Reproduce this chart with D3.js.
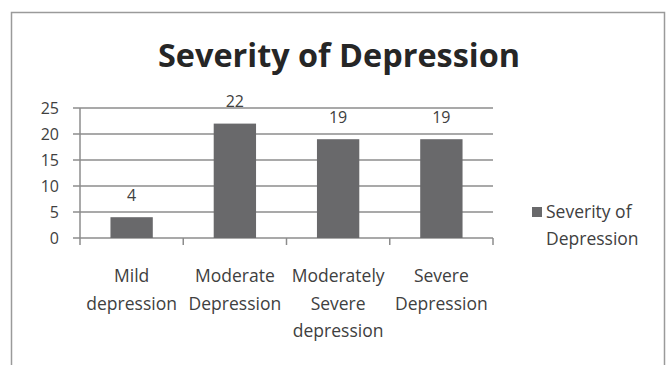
<!DOCTYPE html>
<html>
<head>
<meta charset="utf-8">
<script src="https://cdn.jsdelivr.net/npm/d3@7"></script>
<style>
  html, body { margin: 0; padding: 0; background: #fff; }
  svg { display: block; }
  text { font-family: "Open Sans", "Liberation Sans", sans-serif; fill: #404040; }
</style>
</head>
<body>
<svg id="chart" width="669" height="365"></svg>
<script>
// Chart data
const categories = [
  ["Mild", "depression"],
  ["Moderate", "Depression"],
  ["Moderately", "Severe", "depression"],
  ["Severe", "Depression"]
];
const values = [4, 22, 19, 19];
const yTicks = [0, 5, 10, 15, 20, 25];
const seriesName = ["Severity of", "Depression"];
const title = "Severity of Depression";

const svg = d3.select("#chart");

// Chart frame
svg.append("rect")
  .attr("x", 11.5).attr("y", 12.5)
  .attr("width", 653).attr("height", 370)
  .attr("fill", "#fff").attr("stroke", "#9a9a9a").attr("stroke-width", 1.5);

const plot = { left: 80, right: 493, top: 108, bottom: 238 };

const x = d3.scaleBand()
  .domain(categories.map((d, i) => i))
  .range([plot.left, plot.right])
  .paddingInner(0.59).paddingOuter(0.295);

const xOuter = d3.scaleBand()
  .domain(categories.map((d, i) => i))
  .range([plot.left, plot.right]);

const y = d3.scaleLinear().domain([0, 25]).range([plot.bottom, plot.top]);

// Gridlines with outward tick marks
svg.append("g").selectAll("line")
  .data(yTicks)
  .join("line")
  .attr("x1", plot.left - 7).attr("x2", plot.right)
  .attr("y1", d => y(d)).attr("y2", d => y(d))
  .attr("stroke", "#8c8c8c").attr("stroke-width", 1.5);

// Y axis line
svg.append("line")
  .attr("x1", plot.left).attr("x2", plot.left)
  .attr("y1", plot.top).attr("y2", plot.bottom)
  .attr("stroke", "#8c8c8c").attr("stroke-width", 1.5);

// Y tick labels
svg.append("g").selectAll("text")
  .data(yTicks)
  .join("text")
  .attr("x", 59).attr("y", d => y(d))
  .attr("dy", "0.36em")
  .attr("text-anchor", "end")
  .attr("font-size", 16)
  .text(d => d);

// X axis ticks between categories
const xTickPos = categories.map((d, i) => xOuter(i)).concat([plot.right]);
svg.append("g").selectAll("line")
  .data(xTickPos)
  .join("line")
  .attr("x1", d => d).attr("x2", d => d)
  .attr("y1", plot.bottom).attr("y2", plot.bottom + 7)
  .attr("stroke", "#8c8c8c").attr("stroke-width", 1.5);

// Bars
svg.append("g").selectAll("rect")
  .data(values)
  .join("rect")
  .attr("x", (d, i) => x(i))
  .attr("width", x.bandwidth())
  .attr("y", d => y(d))
  .attr("height", d => y(0) - y(d))
  .attr("fill", "#69696b");

// Value labels
svg.append("g").selectAll("text")
  .data(values)
  .join("text")
  .attr("x", (d, i) => x(i) + x.bandwidth() / 2)
  .attr("y", d => y(d) - 16.5)
  .attr("text-anchor", "middle")
  .attr("font-size", 16)
  .text(d => d);

// Category labels
const catG = svg.append("g").selectAll("text")
  .data(categories)
  .join("text")
  .attr("text-anchor", "middle")
  .attr("font-size", 17.5)
  .attr("x", (d, i) => xOuter(i) + xOuter.bandwidth() / 2)
  .attr("y", 282);
catG.selectAll("tspan")
  .data(d => d)
  .join("tspan")
  .attr("x", function () { return d3.select(this.parentNode).attr("x"); })
  .attr("dy", (d, i) => i === 0 ? 0 : 27.5)
  .text(d => d);

// Title
svg.append("text")
  .attr("x", 339).attr("y", 67)
  .attr("text-anchor", "middle")
  .attr("font-size", 33)
  .attr("font-weight", "bold")
  .attr("textLength", 362)
  .attr("lengthAdjust", "spacingAndGlyphs")
  .style("fill", "#262626")
  .text(title);

// Legend
svg.append("rect")
  .attr("x", 532).attr("y", 207)
  .attr("width", 10).attr("height", 10)
  .attr("fill", "#69696b");
svg.append("text")
  .attr("font-size", 17.5)
  .attr("y", 218)
  .selectAll("tspan")
  .data(seriesName)
  .join("tspan")
  .attr("x", 546)
  .attr("dy", (d, i) => i === 0 ? 0 : 27)
  .text(d => d);
</script>
</body>
</html>
